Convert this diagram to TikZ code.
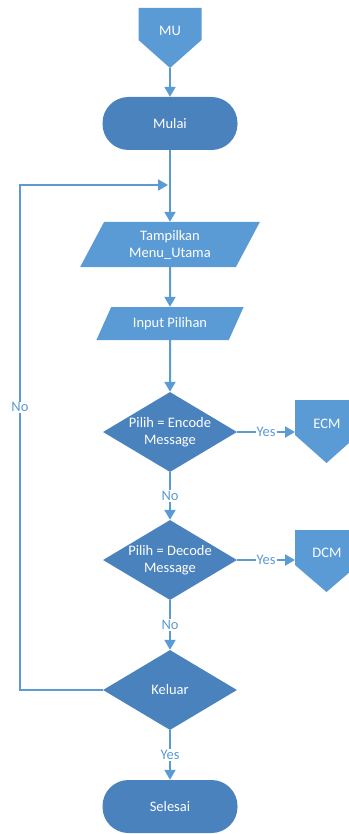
\documentclass[tikz,border=0pt]{standalone}
\usepackage{fontspec}
\setmainfont{Carlito}
\usetikzlibrary{shapes.geometric,arrows.meta}
\definecolor{lineblue}{RGB}{91,155,213}
\definecolor{darkblue}{RGB}{74,130,189}
\tikzset{
  base/.style     = {text=white, font=\fontsize{14.5}{17}\selectfont, align=center, inner sep=0pt},
  term/.style     = {base, fill=darkblue, rounded corners=26pt, minimum width=135pt, minimum height=53pt},
  io/.style       = {base, fill=lineblue, trapezium, trapezium stretches=true},
  decision/.style = {base, fill=darkblue, diamond, shape aspect=1.675, minimum width=134pt, minimum height=80pt},
  offpage/.style  = {fill=lineblue},
  flow/.style     = {line width=2pt, lineblue, -{Triangle[width=11pt,length=10pt]}},
  cond/.style     = {fill=white, text=lineblue, font=\fontsize{14.5}{17}\selectfont, inner sep=1pt},
}

\begin{document}
\begin{tikzpicture}[x=1pt, y=-1pt]
    \useasboundingbox (0,0) rectangle (348,834);
    % off-page connectors
    \fill[offpage] (138.5,8) -- ++(63,0) -- ++(0,32) -- ++(-31.5,28) -- ++(-31.5,-28) -- cycle;
    \node[base] (mu) at (170,31) {MU};
    \coordinate (mutip) at (170,68);
    \fill[offpage] (295,400) -- ++(63,0) -- ++(0,35) -- ++(-31.5,28) -- ++(-31.5,-28) -- cycle;
    \node[base] (ecm) at (327,424) {ECM};
    \coordinate (ecmin) at (295,432);
    \fill[offpage] (295,530) -- ++(63,0) -- ++(0,35) -- ++(-31.5,27) -- ++(-31.5,-27) -- cycle;
    \node[base] (dcm) at (327,553) {DCM};
    \coordinate (dcmin) at (295,560);
    % main flow
    \node[term] (mulai) at (170,123.5) {Mulai};
    \node[io, trapezium left angle=63, trapezium right angle=117, minimum width=180pt, minimum height=45pt] (tampil) at (170,244.5) {Tampilkan\\Menu\_Utama};
    \node[io, trapezium left angle=53, trapezium right angle=127, minimum width=148pt, minimum height=33pt] (input) at (170,323.5) {Input Pilihan};
    \node[decision] (enc) at (170,432) {Pilih = Encode\\Message};
    \node[decision] (dec) at (170,560) {Pilih = Decode\\Message};
    \node[decision] (kel) at (170,690) {Keluar};
    \node[term] (sel) at (170,806.5) {Selesai};
    \coordinate (lp) at (20,185);
    \coordinate (join) at (168,185);

    \draw[flow] (mutip) -- (mulai);
    \draw[flow] (mulai) -- (tampil);
    \draw[flow] (tampil) -- (input);
    \draw[flow] (input) -- (enc);
    \draw[flow] (enc) -- node[cond] {No} (dec);
    \draw[flow] (dec) -- node[cond] {No} (kel);
    \draw[flow] (kel) -- node[cond] {Yes} (sel);
    \draw[flow] (enc) -- node[cond] {Yes} (ecmin);
    \draw[flow] (dec) -- node[cond] {Yes} (dcmin);
    \draw[flow] (kel.west) -| node[cond, pos=0.78] {No} (lp) -- (join);
\end{tikzpicture}
\end{document}
